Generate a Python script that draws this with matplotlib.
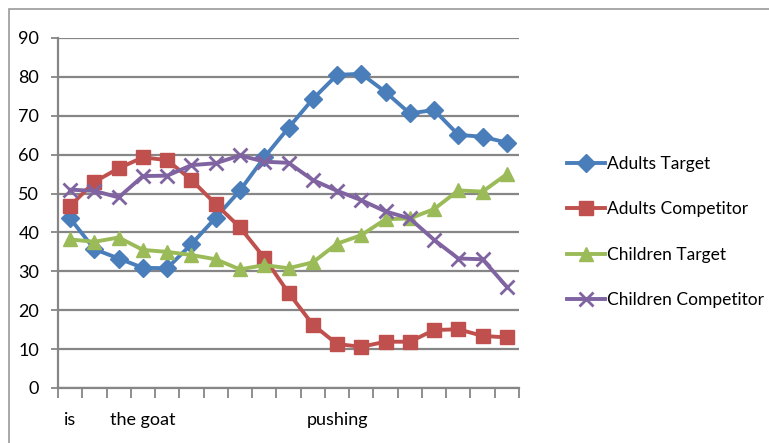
import matplotlib
matplotlib.use('Agg')
import matplotlib.pyplot as plt
from matplotlib.patches import Rectangle

plt.rcParams['font.family'] = ['Lato', 'DejaVu Sans']

# one value per word position (19 positions)
labels = ['is', '', '', 'the goat', '', '', '', '', '', '', '', 'pushing',
          '', '', '', '', '', '', '']
adults_target = [43.6, 35.7, 33.3, 30.9, 30.8, 37.0, 43.8, 50.8, 59.3, 66.9,
                 74.3, 80.5, 80.8, 76.1, 70.6, 71.5, 65.1, 64.6, 63.1]
adults_competitor = [46.8, 53.0, 56.5, 59.3, 58.6, 53.5, 47.3, 41.3, 33.5, 24.5,
                     16.3, 11.3, 10.6, 11.9, 11.9, 14.9, 15.1, 13.4, 13.0]
children_target = [38.2, 37.6, 38.7, 35.5, 35.0, 34.2, 33.1, 30.5, 31.6, 30.8,
                   32.3, 37.1, 39.3, 43.4, 43.6, 46.0, 50.8, 50.5, 55.0]
children_competitor = [51.0, 50.7, 49.0, 54.5, 54.6, 57.3, 57.8, 59.8, 58.2, 57.9,
                       53.5, 50.7, 48.3, 45.4, 43.6, 38.1, 33.3, 33.1, 26.0]

series = [
    ('Adults Target', adults_target, '#4A7EBB', 'D', 9.5),
    ('Adults Competitor', adults_competitor, '#C0504D', 's', 9.5),
    ('Children Target', children_target, '#9BBB59', '^', 10),
    ('Children Competitor', children_competitor, '#8064A2', 'x', 10),
]

fig = plt.figure(figsize=(7.69, 4.43), dpi=100)
ax = fig.add_axes([58 / 769, 55 / 443, 461 / 769, 350 / 443])

grid_gray = '#868686'
x = list(range(len(labels)))
for name, vals, color, marker, ms in series:
    ax.plot(x, vals, color=color, lw=2.8, marker=marker, markersize=ms,
            markeredgewidth=2 if marker == 'x' else 1, markeredgecolor=color,
            label=name, solid_joinstyle='round')

ax.set_xlim(-0.5, len(labels) - 0.5)
ax.set_ylim(0, 90)
ax.set_yticks(range(0, 91, 10))
ax.yaxis.grid(True, color=grid_gray, lw=1.6)
ax.set_axisbelow(True)

# category ticks sit between the points, labels under the points
ax.set_xticks([i - 0.5 for i in range(len(labels) + 1)])
ax.set_xticklabels([])
ax.set_xticks(x, minor=True)
ax.set_xticklabels(labels, minor=True)
ax.tick_params(axis='x', which='major', length=7, width=1.3, color=grid_gray, direction='out')
ax.tick_params(axis='x', which='minor', length=0, pad=17, labelsize=13)
ax.tick_params(axis='y', length=5, width=1.3, color=grid_gray, labelsize=13, pad=8.5)

for side in ['top', 'right']:
    ax.spines[side].set_visible(False)
for side in ['left', 'bottom']:
    ax.spines[side].set_color(grid_gray)
    ax.spines[side].set_linewidth(1.6)

leg = fig.legend(loc='upper left', bbox_to_anchor=(560 / 769, 1 - 149 / 443),
                 frameon=False, fontsize=12.5, handlelength=2.2, handletextpad=0.1,
                 labelspacing=1.7, borderaxespad=0)

# chart frame
fig.patches.append(Rectangle((9 / 769, -0.1), 1.0, 1 - 9 / 443 + 0.1,
                             transform=fig.transFigure, fill=False,
                             edgecolor='#9a9a9a', lw=1.2))

fig.savefig('out.png', dpi=100)
